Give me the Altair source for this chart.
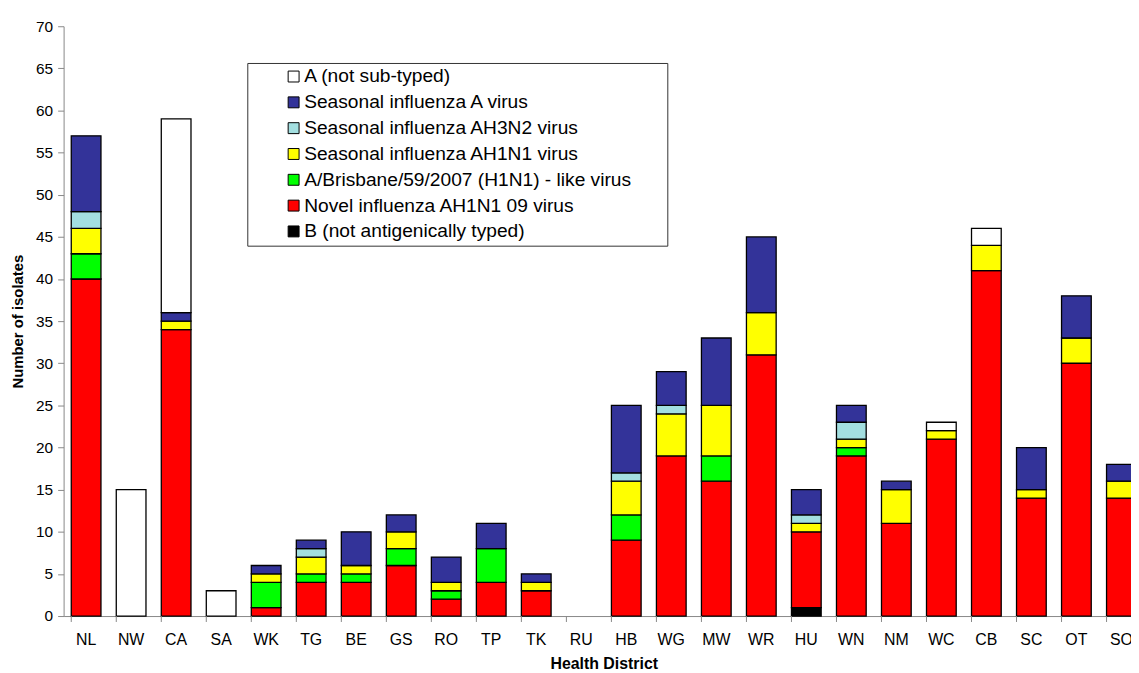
import altair as alt
import pandas as pd

districts = ["NL", "NW", "CA", "SA", "WK", "TG", "BE", "GS", "RO", "TP", "TK", "RU",
             "HB", "WG", "MW", "WR", "HU", "WN", "NM", "WC", "CB", "SC", "OT", "SO"]

# stacking order, bottom to top
b_not_typed   = [0, 0, 0, 0, 0, 0, 0, 0, 0, 0, 0, 0, 0, 0, 0, 0, 1, 0, 0, 0, 0, 0, 0, 0]
novel_h1n1    = [40, 0, 34, 0, 1, 4, 4, 6, 2, 4, 3, 0, 9, 19, 16, 31, 9, 19, 11, 21, 41, 14, 30, 14]
brisbane      = [3, 0, 0, 0, 3, 1, 1, 2, 1, 4, 0, 0, 3, 0, 3, 0, 0, 1, 0, 0, 0, 0, 0, 0]
seasonal_h1n1 = [3, 0, 1, 0, 1, 2, 1, 2, 1, 0, 1, 0, 4, 5, 6, 5, 1, 1, 4, 1, 3, 1, 3, 2]
seasonal_h3n2 = [2, 0, 0, 0, 0, 1, 0, 0, 0, 0, 0, 0, 1, 1, 0, 0, 1, 2, 0, 0, 0, 0, 0, 0]
seasonal_a    = [9, 0, 1, 0, 1, 1, 4, 2, 3, 3, 1, 0, 8, 4, 8, 9, 3, 2, 1, 0, 0, 5, 5, 2]
a_not_sub     = [0, 15, 23, 3, 0, 0, 0, 0, 0, 0, 0, 0, 0, 0, 0, 0, 0, 0, 0, 1, 2, 0, 0, 0]

stack_names = ["B (not antigenically typed)",
               "Novel influenza AH1N1 09 virus",
               "A/Brisbane/59/2007 (H1N1) - like virus",
               "Seasonal influenza AH1N1 virus",
               "Seasonal influenza AH3N2 virus",
               "Seasonal influenza A virus",
               "A (not sub-typed)"]
stack_values = [b_not_typed, novel_h1n1, brisbane, seasonal_h1n1,
                seasonal_h3n2, seasonal_a, a_not_sub]
stack_colors = ["#000000", "#ff0000", "#00ff00", "#ffff00", "#a3dfe0", "#333399", "#ffffff"]

legend_order = list(reversed(stack_names))
legend_colors = list(reversed(stack_colors))

rows = []
for si, (name, vals) in enumerate(zip(stack_names, stack_values)):
    for d, v in zip(districts, vals):
        if v > 0:
            rows.append({"district": d, "series": name, "count": v, "order": si})
df = pd.DataFrame(rows)
tick_df = pd.DataFrame({"district": districts})

x_scale = alt.Scale(domain=districts, range=[0, 1088], paddingInner=0.34, paddingOuter=0.17)
y_scale = alt.Scale(domain=[0, 70], nice=False)

x_axis = alt.Axis(title="Health District", labelAngle=0, ticks=False,
                  labelPadding=16, titlePadding=8, labelFontSize=16,
                  labelColor="black", titleFontSize=16, titleFontWeight="bold",
                  titleColor="black", domainColor="#888888")

# trailing non-breaking spaces (kept by a final zero-width space) widen the legend box
pad = "\u00a0" * 6 + "\u200b"

bars = alt.Chart(df).mark_bar(stroke="black", strokeWidth=1.3).encode(
    x=alt.X("district:N", scale=x_scale, sort=districts, axis=x_axis),
    y=alt.Y("count:Q", stack="zero", scale=y_scale,
            axis=alt.Axis(title="Number of isolates", values=list(range(0, 75, 5)),
                          grid=False, tickSize=6, tickColor="#888888", domainColor="#888888",
                          labelFontSize=15.5, labelColor="black", labelPadding=5,
                          titleFontSize=15, titleFontWeight="bold", titleColor="black",
                          titlePadding=10)),
    color=alt.Color("series:N",
                    scale=alt.Scale(domain=legend_order, range=legend_colors),
                    legend=alt.Legend(title=None, orient="none", legendX=185, legendY=37,
                                      direction="vertical", fillColor="white",
                                      strokeColor="#333333", padding=4,
                                      symbolType="square", symbolSize=121,
                                      symbolStrokeColor="black", symbolStrokeWidth=1,
                                      symbolOffset=33, labelOffset=1,
                                      labelExpr="datum.label + '" + pad + "'",
                                      labelFontSize=19.3, labelColor="black",
                                      labelLimit=900, rowPadding=6)),
    order=alt.Order("order:Q", sort="ascending"),
)

ticks = alt.Chart(tick_df).mark_rule(color="#888888").encode(
    x=alt.X("district:N", scale=x_scale, sort=districts, bandPosition=0, axis=x_axis),
    y=alt.value(594),
    y2=alt.value(600),
)

chart = alt.layer(bars, ticks).properties(
    width=1075, height=594,
    autosize=alt.AutoSizeParams(type="none"),
    padding={"left": 56, "top": 16, "right": 0, "bottom": 55},
).configure(font="Liberation Sans").configure_view(stroke=None)

chart.save("out.html", embed_options={"renderer": "svg", "actions": False})
